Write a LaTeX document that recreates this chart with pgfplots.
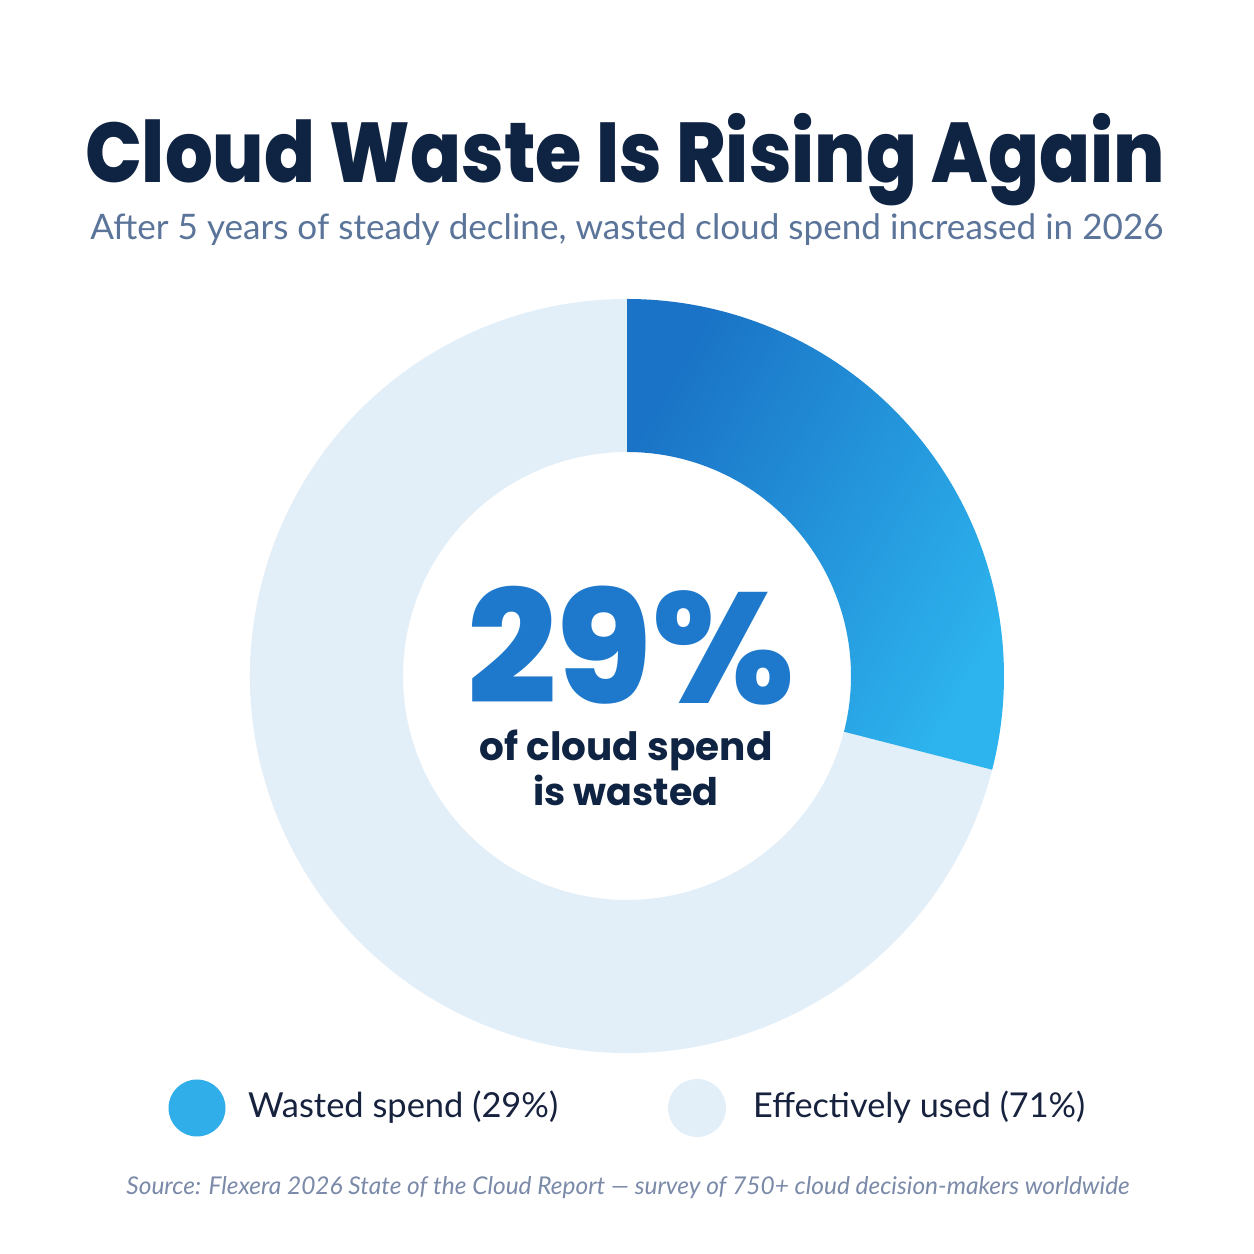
\documentclass[border=0pt]{standalone}
\usepackage{pgfplots}
\pgfplotsset{compat=1.18}
\usepackage{pgfplotstable}
\usepackage{fontspec}
\setmainfont{Lato}
\newfontfamily\pop{Poppins}
\newfontfamily\popx{Poppins ExtraBold}
\definecolor{navy}{HTML}{0F2342}
\definecolor{subc}{HTML}{5B7499}
\definecolor{bigblue}{HTML}{1E79CC}
\definecolor{wdark}{HTML}{1A73C6}
\definecolor{wlight}{HTML}{2DB4EE}
\definecolor{ring}{HTML}{E2EEF8}
\definecolor{legblue}{HTML}{30AEEA}
\definecolor{legtext}{HTML}{17223E}
\definecolor{srcc}{HTML}{7A8AA8}
\pgfplotstableread{
label value
Wasted 29
Used 71
}\piedata
\begin{document}
\begin{tikzpicture}[x=1pt,y=1pt]
\fill[white] (0,0) rectangle (1254,1254);
\pgfplotstablegetelem{0}{value}\of\piedata
\pgfmathsetmacro\aEnd{90-3.6*\pgfplotsretval}
\pgfmathsetmacro\aFull{90-360}
\def\Ro{377pt}
\def\Ri{224pt}
\begin{axis}[at={(627pt,578pt)}, anchor=center, scale only axis,
  width=754pt, height=754pt, xmin=-1, xmax=1, ymin=-1, ymax=1,
  hide axis, clip=false]
\fill[ring] (axis cs:0,0) ++(\aEnd:\Ro) arc[start angle=\aEnd, end angle=\aFull, radius=\Ro]
  -- ([shift={(\aFull:\Ri)}]axis cs:0,0) arc[start angle=\aFull, end angle=\aEnd, radius=\Ri] -- cycle;
\shade[top color=wdark, bottom color=wlight, shading angle=60] (axis cs:0,0) ++(90:\Ro) arc[start angle=90, end angle=\aEnd, radius=\Ro]
  -- ([shift={(\aEnd:\Ri)}]axis cs:0,0) arc[start angle=\aEnd, end angle=90, radius=\Ri] -- cycle;
\end{axis}
% titles
\node[anchor=base, inner sep=0, text=navy] at (625,1071) {\scalebox{1}[1.13]{\resizebox{1080pt}{!}{\popx\fontsize{90}{100}\selectfont Cloud Waste Is Rising Again}}};
\node[anchor=base, inner sep=0, text=subc] at (627,1014) {\resizebox{1073pt}{!}{\fontsize{32}{38}\selectfont After 5 years of steady decline, wasted cloud spend increased in 2026}};
% center
\node[anchor=base, inner sep=0, text=bigblue] at (631,550) {\resizebox{327pt}{!}{\popx\fontsize{160}{170}\selectfont 29\%}};
\node[anchor=base, inner sep=0, text=navy] at (626,493) {\resizebox{293pt}{!}{\pop\bfseries\fontsize{40}{48}\selectfont of cloud spend}};
\node[anchor=base, inner sep=0, text=navy] at (626,448) {\resizebox{185pt}{!}{\pop\bfseries\fontsize{40}{48}\selectfont is wasted}};
% legend
\fill[legblue] (197,146) circle (28.5);
\fill[ring] (697,146) circle (29);
\node[anchor=base west, inner sep=0, text=legtext] at (248,136) {\resizebox{310pt}{!}{\fontsize{34}{40}\selectfont Wasted spend (29\%)}};
\node[anchor=base west, inner sep=0, text=legtext] at (753,136) {\resizebox{332pt}{!}{\fontsize{34}{40}\selectfont Effectively used (71\%)}};
% source
\node[anchor=base, inner sep=0, text=srcc] at (628,59) {\resizebox{1003pt}{!}{\itshape\fontsize{22}{26}\selectfont Source: Flexera 2026 State of the Cloud Report --- survey of 750+ cloud decision-makers worldwide}};
\path (0,0) rectangle (1254,1254);
\end{tikzpicture}
\end{document}
